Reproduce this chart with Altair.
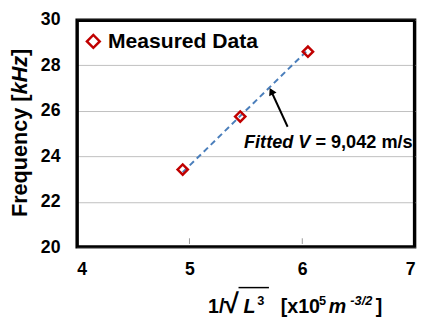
import altair as alt
import pandas as pd

# data
inv_sqrt_L3 = [4.94, 5.45, 6.05]
freq_khz = [23.42, 25.75, 28.6]
fit_x = [4.94, 6.05]
fit_y = [23.3, 28.68]
x_ticks = [4, 5, 6, 7]
y_ticks = [20, 22, 24, 26, 28, 30]
arrow_x = [5.87, 5.725]
arrow_y = [25.3, 26.86]
x_domain = [4, 7]
y_domain = [20, 30]

FONT = "Liberation Sans"
W, H = 345, 232

pts = pd.DataFrame({"x": inv_sqrt_L3, "y": freq_khz})
fit = pd.DataFrame({"x": fit_x, "y": fit_y})
arr = pd.DataFrame({"x": arrow_x, "y": arrow_y})

xs = alt.Scale(domain=x_domain, nice=False, zero=False)
ys = alt.Scale(domain=y_domain, nice=False, zero=False)

xax = alt.Axis(values=x_ticks, format="d", grid=False, ticks=False, domain=False,
               labelFont=FONT, labelFontSize=18, labelFontWeight="bold",
               labelColor="black", labelPadding=14, title=None)
yax = alt.Axis(values=y_ticks, format="d", grid=True, gridColor="#BFBFBF", gridWidth=1,
               ticks=False, domain=False, labelFont=FONT, labelFontSize=18,
               labelFontWeight="bold", labelColor="black", labelPadding=17,
               title=None)

base_pts = alt.Chart(pts).mark_point(
    shape="diamond", filled=False, color="#C00000", strokeWidth=2.5, size=110, opacity=1
).encode(x=alt.X("x:Q", scale=xs, axis=xax), y=alt.Y("y:Q", scale=ys, axis=yax))

fit_line = alt.Chart(fit).mark_line(
    color="#4A7EBB", strokeWidth=2, strokeDash=[6, 4]
).encode(x=alt.X("x:Q", scale=xs), y=alt.Y("y:Q", scale=ys))

# plot frame
frame = alt.Chart(pts.iloc[[0]]).mark_rect(
    fillOpacity=0, stroke="black", strokeWidth=2.5, strokeOpacity=1
).encode(x=alt.value(1), x2=alt.value(W - 1), y=alt.value(1), y2=alt.value(H - 1))

# small inside ticks at bottom
tick_df = pd.DataFrame({"x": [5, 6], "y": [20.15, 20.15], "y2": [20.4, 20.4]})
bticks = alt.Chart(tick_df).mark_rule(color="#999999", strokeWidth=1).encode(
    x=alt.X("x:Q", scale=xs), y=alt.Y("y:Q", scale=ys), y2="y2:Q")

arrow_shaft = alt.Chart(arr).mark_line(color="black", strokeWidth=2).encode(
    x=alt.X("x:Q", scale=xs), y=alt.Y("y:Q", scale=ys), order="x:Q")
arrow_head = alt.Chart(arr.iloc[[1]]).mark_point(
    shape="triangle-up", filled=True, color="black", size=70, angle=333, opacity=1
).encode(x=alt.X("x:Q", scale=xs), y=alt.Y("y:Q", scale=ys))

ann_df = pd.DataFrame({"x": [6.09], "y": [24.35]})
ann1 = alt.Chart(ann_df).mark_text(
    text="Fitted V", font=FONT, fontSize=18.5, fontWeight="bold", fontStyle="italic",
    align="right", baseline="alphabetic", color="black", dx=-2
).encode(x=alt.X("x:Q", scale=xs), y=alt.Y("y:Q", scale=ys))
ann2 = alt.Chart(ann_df).mark_text(
    text="= 9,042 m/s", font=FONT, fontSize=18.5, fontWeight="bold",
    align="left", baseline="alphabetic", color="black", dx=3
).encode(x=alt.X("x:Q", scale=xs), y=alt.Y("y:Q", scale=ys))

# legend
leg_sym = alt.Chart(pts.iloc[[0]]).mark_point(
    shape="diamond", filled=False, color="#C00000", strokeWidth=2.5, size=170, opacity=1
).encode(x=alt.value(17), y=alt.value(22))
leg_txt = alt.Chart(pts.iloc[[0]]).mark_text(
    text="Measured Data", font=FONT, fontSize=21.5, fontWeight="bold",
    align="left", baseline="alphabetic", color="black"
).encode(x=alt.value(32), y=alt.value(29))

def txt(t, x, y, size=20, style="normal", align="left", angle=0, baseline="alphabetic"):
    return alt.Chart(pts.iloc[[0]]).mark_text(
        text=t, font=FONT, fontSize=size, fontWeight="bold", fontStyle=style,
        align=align, baseline=baseline, angle=angle, color="black"
    ).encode(x=alt.value(x), y=alt.value(y))

# y title (rotated)
ytitle = [
    txt("Frequency [", -51, 201, size=22, angle=270),
    txt("kHz", -51, 76, size=22, style="italic", angle=270),
    txt("]", -51, 37, size=22, angle=270),
]
# x title
xtitle = [
    txt("1/", 134, 299),
    txt("\u221a", 150, 299, size=28),
    txt("L", 170, 299, style="italic"),
    txt("3", 184, 291, size=13),
    txt("[x10", 208, 299),
    txt("5", 247, 291, size=13),
    txt("m", 257, 299, style="italic"),
    txt("-3/2", 279, 291, size=13, style="italic"),
    txt("]", 305, 299),
]
overline = alt.Chart(pts.iloc[[0]]).mark_rule(color="black", strokeWidth=1.5).encode(
    x=alt.value(165), x2=alt.value(196), y=alt.value(273))

chart = alt.layer(
    fit_line, bticks, arrow_shaft, arrow_head,
    base_pts, frame, ann1, ann2, leg_sym, leg_txt, overline, *ytitle, *xtitle
).properties(
    width=W, height=H,
    background="white",
    autosize=alt.AutoSizeParams(type="none"),
    padding={"left": 70, "top": 9, "right": 5, "bottom": 71},
).configure_view(stroke="black", strokeWidth=2.5)

chart.save("out.html", embed_options={"renderer": "svg", "actions": False})
